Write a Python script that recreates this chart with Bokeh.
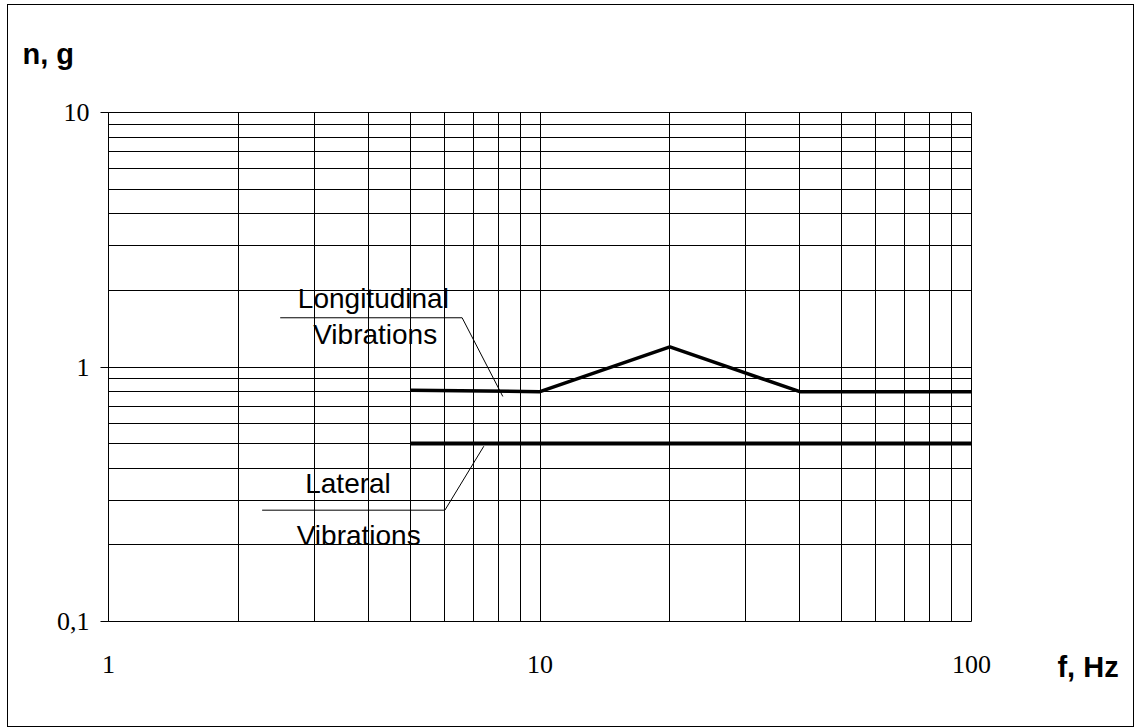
from bokeh.plotting import figure
from bokeh.models import FixedTicker, Label
from bokeh.embed import file_html
from bokeh.resources import INLINE

# ---- data ----
long_f = [5, 10, 20, 40, 100]
long_n = [0.81, 0.8, 1.2, 0.8, 0.8]
lat_f = [5, 100]
lat_n = [0.5, 0.5]

x_major = [1, 10, 100]
x_minor = [2, 3, 4, 5, 6, 7, 8, 9, 20, 30, 40, 50, 60, 70, 80, 90]
y_major = [0.1, 1, 10]
y_minor = [0.2, 0.3, 0.4, 0.5, 0.6, 0.7, 0.8, 0.9, 2, 3, 4, 5, 6, 7, 8, 9]
x_labels = {1: "1", 10: "10", 100: "100"}
y_labels = {0.1: "0,1", 1: "1", 10: "10"}

# callout leader lines (annotation geometry)
long_leader_f = [2.50, 6.60, 8.20]
long_leader_n = [1.561, 1.561, 0.766]
lat_leader_f = [2.27, 6.02, 7.41]
lat_leader_n = [0.2738, 0.2738, 0.4884]

p = figure(x_axis_type="log", y_axis_type="log",
           x_range=(1, 100), y_range=(0.1, 10),
           frame_width=863, frame_height=509,
           min_border_left=100, min_border_right=162,
           min_border_top=107, min_border_bottom=105,
           output_backend="svg", toolbar_location=None)
p.margin = (4, 0, 0, 7)
p.styles = {"border": "1px solid black"}
p.background_fill_color = "white"
p.border_fill_color = "white"
p.outline_line_color = "black"
p.outline_line_width = 1
p.outline_line_alpha = 1

# x axis
p.xaxis.ticker = FixedTicker(ticks=x_major, minor_ticks=x_minor)
p.xaxis.major_label_overrides = x_labels
p.xaxis.axis_line_color = None
p.xaxis.major_tick_out = 0
p.xaxis.major_tick_in = 0
p.xaxis.minor_tick_line_color = None
p.xaxis.major_label_standoff = 30
p.xaxis.major_label_text_font = "Liberation Serif"
p.xaxis.major_label_text_font_size = "26px"
p.xaxis.major_label_text_color = "black"

# y axis
p.yaxis.ticker = FixedTicker(ticks=y_major, minor_ticks=y_minor)
p.yaxis.major_label_overrides = y_labels
p.yaxis.axis_line_color = "black"
p.yaxis.major_tick_out = 8
p.yaxis.major_tick_in = 0
p.yaxis.major_tick_line_color = "black"
p.yaxis.minor_tick_line_color = None
p.yaxis.major_label_standoff = 11
p.yaxis.major_label_text_font = "Liberation Serif"
p.yaxis.major_label_text_font_size = "26px"
p.yaxis.major_label_text_color = "black"

for g in (p.xgrid, p.ygrid):
    g.grid_line_color = "black"
    g.grid_line_alpha = 1
    g.grid_line_width = 1
    g.minor_grid_line_color = "black"
    g.minor_grid_line_alpha = 1
    g.minor_grid_line_width = 1

p.line(long_f, long_n, line_color="black", line_width=3.5)
p.line(lat_f, lat_n, line_color="black", line_width=4)
p.line(long_leader_f, long_leader_n, line_color="black", line_width=1)
p.line(lat_leader_f, lat_leader_n, line_color="black", line_width=1)

def lab(x, y, t, size="28px", bold=False, align="center", place=None):
    l = Label(x=x, y=y, text=t, text_font="Liberation Sans",
              text_font_size=size, y_offset=9,
              text_font_style="bold" if bold else "normal",
              text_align=align, text_baseline="alphabetic",
              text_color="black")
    if place is None:
        p.add_layout(l)
    else:
        p.add_layout(l, place)

lab(4.11, 1.708, "Longitudinal")
lab(4.15, 1.240, "Vibrations")
lab(3.59, 0.322, "Lateral")
lab(3.80, 0.2001, "Vibrations")
lab(0.632, 15.7, "n, g", size="29px", bold=True, align="left", place="above")
lab(158.2, 0.0608, "f, Hz", size="29px", bold=True, align="left", place="right")

open("out.html", "w").write(file_html(p, INLINE))
